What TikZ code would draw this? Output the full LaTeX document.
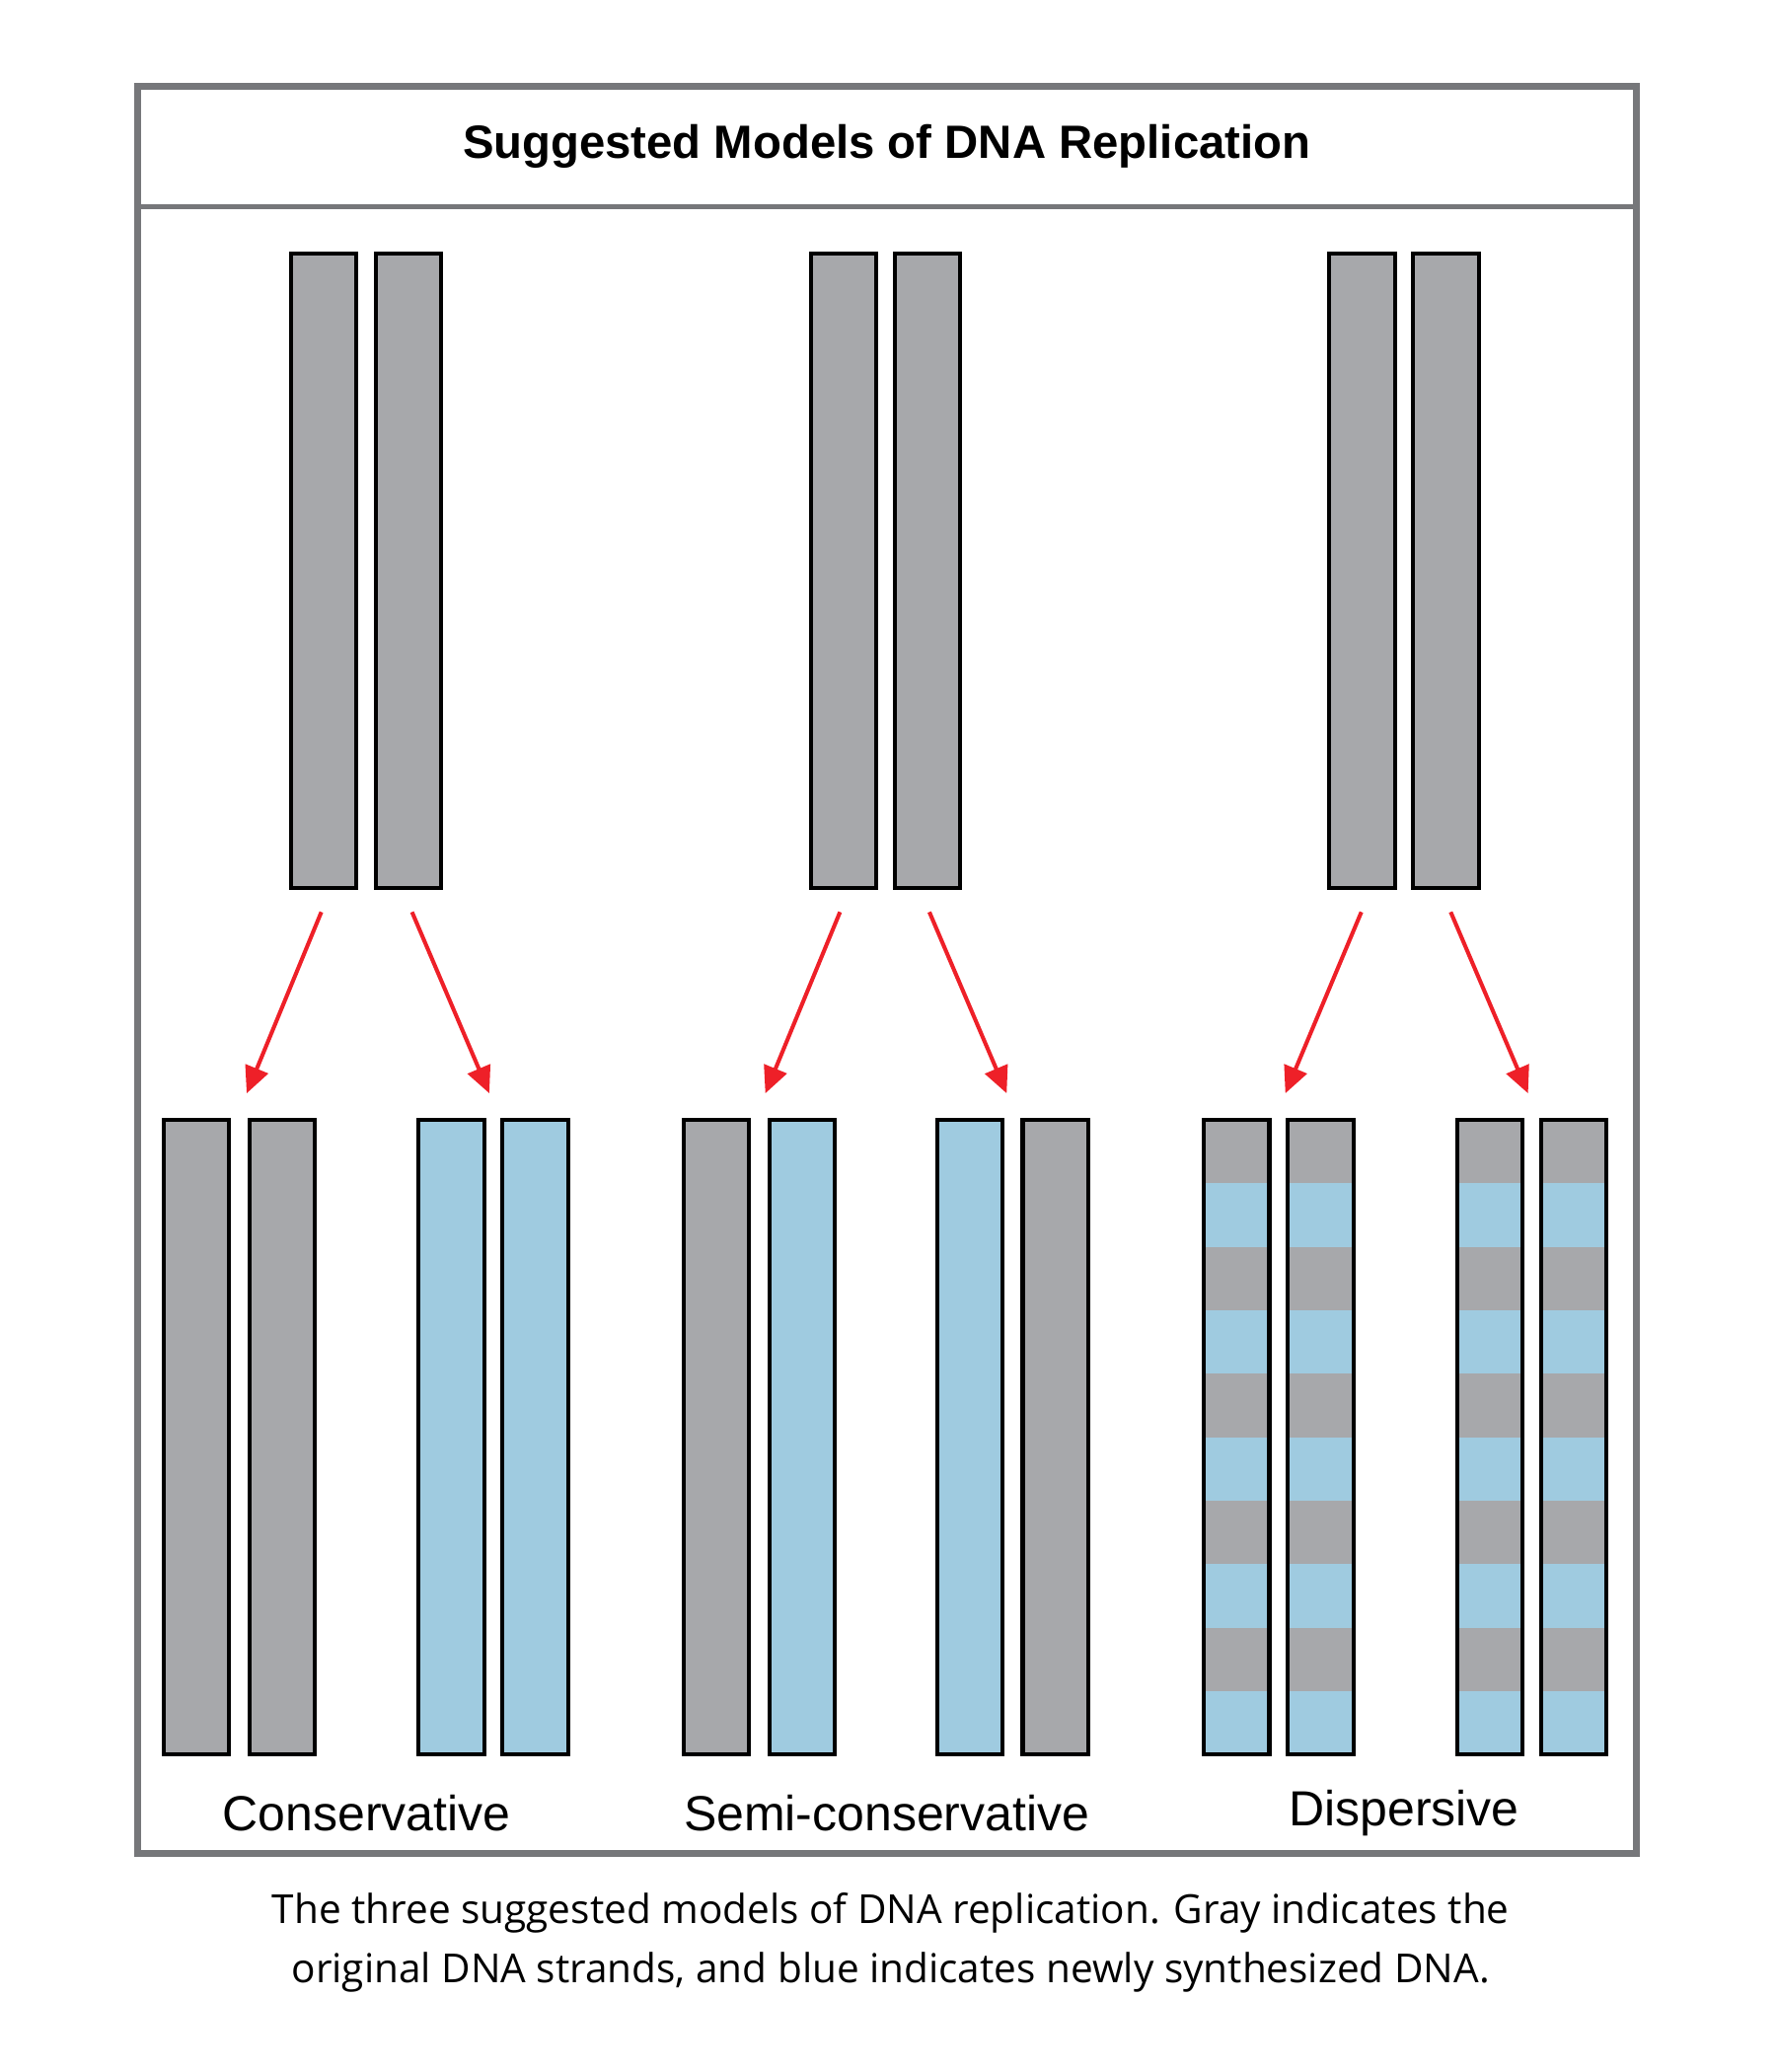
\documentclass[tikz,border=0pt]{standalone}
\usepackage{fontspec}
\setmainfont{Liberation Sans}
\newfontfamily\capfont{Open Sans}
\usetikzlibrary{arrows.meta}
\definecolor{sgray}{HTML}{A7A8AB}
\definecolor{sblue}{HTML}{9FCBE0}
\definecolor{framec}{HTML}{76777A}
\definecolor{arr}{HTML}{EE2028}
\begin{document}
\begin{tikzpicture}[x=1pt,y=-1pt,
  strand/.style={draw=black,line width=3pt},
  red arrow/.style={draw=arr,line width=3pt,-{Triangle[length=20pt,width=18pt]}},
  lab/.style={font=\fontsize{37}{40}\selectfont,anchor=center}]
\useasboundingbox (0,0) rectangle (1332,1554);
\fill[white] (0,0) rectangle (1332,1554);
% frame
\draw[framec,line width=5pt] (103,65) rectangle (1227,1390);
\draw[framec,line width=4pt] (103,155) -- (1227,155);
\node (title) at (665,110) {\fontsize{35}{40}\selectfont\bfseries Suggested Models of DNA Replication};
% top strands
\foreach \x/\n in {218/a1,282/a2,608/b1,671/b2,997/c1,1060/c2}{
  \path[strand,fill=sgray] (\x,190) rectangle (\x+49,666);
  \coordinate (\n) at (\x+24.5,666);
}
% bottom strands
\foreach \x/\c in {123/sgray,187/sgray,314/sblue,377/sblue,513/sgray,577/sblue,703/sblue,767/sgray}{
  \path[strand,fill=\c] (\x,840) rectangle (\x+49,1316);
}
\foreach \x in {903,966,1093,1156}{
  \foreach \i in {0,...,9}{
    \pgfmathsetmacro{\ya}{840+47.6*\i}
    \pgfmathtruncatemacro{\odd}{mod(\i,2)}
    \ifnum\odd=0 \fill[sgray] (\x,\ya) rectangle (\x+49,\ya+47.6);
    \else \fill[sblue] (\x,\ya) rectangle (\x+49,\ya+47.6); \fi
  }
  \draw[black,line width=3pt] (\x,840) rectangle (\x+49,1316);
}
% arrows
\coordinate (s1) at (241,684); \coordinate (e1) at (185,820);
\coordinate (s2) at (309,684); \coordinate (e2) at (367,820);
\coordinate (s3) at (630,684); \coordinate (e3) at (574,820);
\coordinate (s4) at (697,684); \coordinate (e4) at (755,820);
\coordinate (s5) at (1021,684); \coordinate (e5) at (964,820);
\coordinate (s6) at (1088,684); \coordinate (e6) at (1146,820);
\foreach \i in {1,...,6}{\draw[red arrow] (s\i) -- (e\i);}
% labels
\node[lab] (l1) at (275,1360) {Conservative};
\node[lab] (l2) at (665,1360) {Semi-conservative};
\node[lab] (l3) at (1053,1360) {Dispersive};
\node[align=center,font=\capfont\fontsize{30}{44}\selectfont] (cap) at (668,1457)
 {The three suggested models of DNA replication. Gray indicates the\\original DNA strands, and blue indicates newly synthesized DNA.};
\end{tikzpicture}
\end{document}
